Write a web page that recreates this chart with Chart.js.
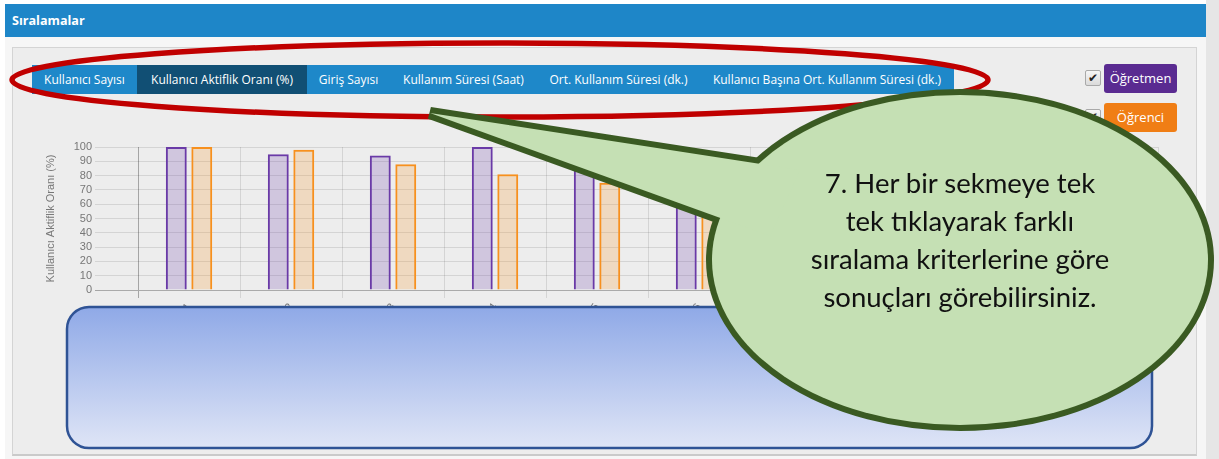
<!DOCTYPE html>
<html>
<head>
<meta charset="utf-8">
<script src="https://cdn.jsdelivr.net/npm/chart.js@4.4.1/dist/chart.umd.min.js"></script>
<style>
  html, body { margin:0; padding:0; }
  body { width:1219px; height:459px; overflow:hidden; background:#ffffff; position:relative; font-family:'Open Sans', sans-serif; }
  .abs { position:absolute; }
  #frame { left:5px; top:4px; width:1201px; height:455px; background:#f6f6f6; }
  #hdr { left:5px; top:4px; width:1201px; height:33px; background:#1e86c8; color:#fff; font-weight:700; font-size:12.6px; line-height:33px; padding-left:7px; box-sizing:border-box; }
  #scroll { left:1206px; top:0; width:13px; height:459px; background:#e6e6e6; }
  #panel { left:12px; top:47px; width:1185px; height:409px; background:#ededed; border:1px solid #d4d4d4; border-bottom:2px solid #cacaca; box-sizing:border-box; }
  #tabs { left:32px; top:65px; height:29px; display:flex; background:#1e88c9; }
  .tab { height:29px; line-height:29px; color:#fff; font-size:12px; text-align:center; white-space:nowrap; }
  .tab.active { background:#114f74; }
  .cb { position:absolute; width:14px; height:14px; border:1px solid #a9a9a9; border-radius:2px; background:linear-gradient(#f6f6f6,#dadada); font-family:'DejaVu Sans'; font-size:12px; font-weight:bold; line-height:14px; text-align:center; color:#222; }
  .btn { position:absolute; left:1104px; width:73px; height:29px; border-radius:3px; color:#fff; font-size:13px; line-height:29px; text-align:center; }
  #chartwrap { left:40px; top:130px; width:1140px; height:200px; }
  #ov { left:0; top:0; }
</style>
</head>
<body>
<div id="frame" class="abs"></div>
<div id="scroll" class="abs"></div>
<div id="hdr" class="abs">Sıralamalar</div>
<div id="panel" class="abs"></div>
<div id="tabs" class="abs">
  <div class="tab" style="width:105px">Kullanıcı Sayısı</div>
  <div class="tab active" style="width:170px">Kullanıcı Aktiflik Oranı (%)</div>
  <div class="tab" style="width:83px">Giriş Sayısı</div>
  <div class="tab" style="width:147px">Kullanım Süresi (Saat)</div>
  <div class="tab" style="width:163px">Ort. Kullanım Süresi (dk.)</div>
  <div class="tab" style="width:254px">Kullanıcı Başına Ort. Kullanım Süresi (dk.)</div>
</div>
<div class="cb" style="left:1085px;top:70px">✔</div>
<div class="btn" style="top:64px;background:#5a2b91">Öğretmen</div>
<div class="cb" style="left:1085px;top:109px">✔</div>
<div class="btn" style="top:103px;background:#f07e15">Öğrenci</div>

<div id="chartwrap" class="abs"><canvas id="c" width="1140" height="200"></canvas></div>

<svg id="ov" class="abs" width="1219" height="459" xmlns="http://www.w3.org/2000/svg">
  <defs>
    <linearGradient id="blueg" x1="0" y1="0" x2="0" y2="1">
      <stop offset="0" stop-color="#8fa9e7"/>
      <stop offset="1" stop-color="#dfe5f6"/>
    </linearGradient>
  </defs>
  <ellipse cx="500" cy="80" rx="488" ry="37" fill="none" stroke="#c00000" stroke-width="5.5"/>
  <rect x="67" y="307" width="1085" height="141" rx="22" ry="22" fill="url(#blueg)" stroke="#2f5395" stroke-width="2.5"/>
  <g stroke="#3a5a22" stroke-width="12" fill="#3a5a22" stroke-linejoin="miter" stroke-miterlimit="10">
    <ellipse cx="960" cy="260" rx="248" ry="165"/>
    <polygon points="430,113 800,170 770,236"/>
  </g>
  <g fill="#c5e0b4">
    <ellipse cx="960" cy="260" rx="248" ry="165"/>
    <polygon points="430,113 800,170 770,236"/>
  </g>
  <g font-family="Lato, sans-serif" font-size="27.5" fill="#111" text-anchor="middle">
    <text x="960" y="193">7. Her bir sekmeye tek</text>
    <text x="960" y="231">tek tıklayarak farklı</text>
    <text x="960" y="269">sıralama kriterlerine göre</text>
    <text x="960" y="307">sonuçları görebilirsiniz.</text>
  </g>
</svg>

<script>
// ---- data ----
const categories = ['Okul 1', 'Okul 2', 'Okul 3', 'Okul 4', 'Okul 5', 'Okul 6', 'Okul 7', 'Okul 8', 'Okul 9', 'Okul 10'];
const teacherRates = [100, 95, 94, 100, 97, 90, 92, 90, 88, 85];
const studentRates = [100, 98, 88, 81, 75, 72, 70, 66, 60, 55];
const yTickValues = [0, 10, 20, 30, 40, 50, 60, 70, 80, 90, 100];
const seriesNames = ['Öğretmen', 'Öğrenci'];
const yTitle = 'Kullanıcı Aktiflik Oranı (%)';

const toPoints = arr => arr.map((v, i) => ({ x: i, y: v }));

new Chart(document.getElementById('c'), {
  type: 'bar',
  data: {
    datasets: [
      { label: seriesNames[0], data: toPoints(teacherRates), backgroundColor: 'rgba(106,58,167,0.22)', borderColor: '#6a3aa7', borderWidth: 2, categoryPercentage: 0.5, barPercentage: 0.82 },
      { label: seriesNames[1], data: toPoints(studentRates), backgroundColor: 'rgba(247,144,30,0.22)', borderColor: '#f7901e', borderWidth: 2, categoryPercentage: 0.5, barPercentage: 0.82 }
    ]
  },
  options: {
    responsive: false,
    animation: false,
    devicePixelRatio: 1,
    layout: { padding: { top: 17, right: 22, left: 0, bottom: 0 } },
    plugins: { legend: { display: false }, tooltip: { enabled: false } },
    scales: {
      x: {
        type: 'linear', min: -0.873, max: 9.5, offset: false,
        grid: { offset: true, tickLength: 8, color: c => c.index === 0 ? 'rgba(0,0,0,0.3)' : 'rgba(0,0,0,0.1)' },
        border: { color: '#aaaaaa' },
        afterBuildTicks: s => { s.ticks = categories.map((_, i) => ({ value: i })); },
        afterFit: s => { s.height = 40; },
        ticks: { callback: v => categories[v], autoSkip: false, minRotation: 55, maxRotation: 55, color: '#777', font: { size: 11 } }
      },
      y: {
        min: 0, max: 100,
        afterBuildTicks: s => { s.ticks = yTickValues.map(v => ({ value: v })); },
        afterFit: s => { s.width = 60; },
        grid: { tickLength: 5, color: c => (c.tick && c.tick.value === 0) ? 'rgba(0,0,0,0.3)' : 'rgba(0,0,0,0.1)' },
        border: { display: false },
        ticks: { autoSkip: false, color: '#777', font: { size: 11 }, padding: 3 },
        title: { display: true, text: yTitle, color: '#777', font: { size: 11 }, padding: { top: 4, bottom: 0 } }
      }
    }
  }
});
</script>
</body>
</html>
